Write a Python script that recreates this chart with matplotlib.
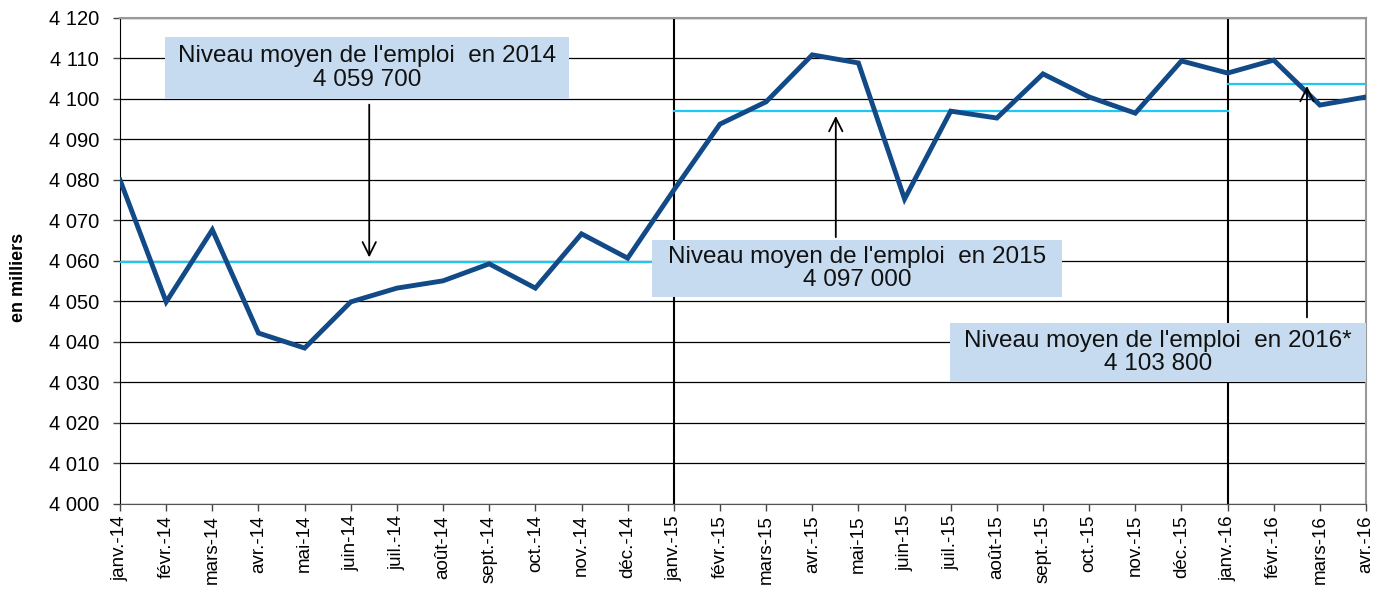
import matplotlib
matplotlib.use("Agg")
import matplotlib.pyplot as plt
from matplotlib.patches import Rectangle

plt.rcParams['font.family'] = ['Liberation Sans', 'DejaVu Sans']

months = ["janv.-14", "févr.-14", "mars-14", "avr.-14", "mai-14", "juin-14", "juil.-14",
          "août-14", "sept.-14", "oct.-14", "nov.-14", "déc.-14",
          "janv.-15", "févr.-15", "mars-15", "avr.-15", "mai-15", "juin-15", "juil.-15",
          "août-15", "sept.-15", "oct.-15", "nov.-15", "déc.-15",
          "janv.-16", "févr.-16", "mars-16", "avr.-16"]
emploi = [4080.0, 4049.9, 4067.7, 4042.2, 4038.5, 4049.9, 4053.3, 4055.1, 4059.3, 4053.3,
          4066.7, 4060.7, 4077.5, 4093.8, 4099.3, 4110.9, 4108.9, 4075.3, 4097.0, 4095.3,
          4106.2, 4100.5, 4096.5, 4109.4, 4106.4, 4109.6, 4098.5, 4100.5]
avg_levels = [4059.7, 4097.0, 4103.8]
avg_labels = ["Niveau moyen de l'emploi  en 2014\n4 059 700",
              "Niveau moyen de l'emploi  en 2015\n4 097 000",
              "Niveau moyen de l'emploi  en 2016*\n4 103 800"]
avg_spans = [(0, 12), (12, 24), (24, 27)]
yticks = list(range(4000, 4121, 10))
ytick_labels = ["4 %03d" % (v - 4000) for v in yticks]

fig = plt.figure(figsize=(13.86, 5.90), dpi=100)
ax = fig.add_axes([0.0866, 0.1458, 0.8990, 0.8237])

x = list(range(len(months)))
ax.set_xlim(0, len(months) - 1)
ax.set_ylim(4000, 4120)

for v in yticks:
    ax.axhline(v, color='black', lw=0.9, zorder=1)

for (s, e) in avg_spans[1:]:
    ax.axvline(s, color='black', lw=1.5, zorder=2)

for lvl, (s, e) in zip(avg_levels, avg_spans):
    ax.plot([s, e], [lvl, lvl], color='#1ec8f5', lw=1.6, zorder=3)

ax.plot(x, emploi, color='#114a86', lw=3.5, zorder=4, solid_joinstyle='miter')

# annotation boxes (layout)
boxes = [(0.975, 9.73, 4100.0, 4115.3), (11.53, 20.41, 4051.1, 4065.2), (17.98, 27.0, 4030.1, 4044.7)]
arrows = [((5.40, 4099.3), (5.40, 4060.2)), ((15.51, 4065.2), (15.51, 4096.5)), ((25.72, 4045.4), (25.72, 4103.9))]
for (x0, x1, y0, y1), lab in zip(boxes, avg_labels):
    ax.add_patch(Rectangle((x0, y0), x1 - x0, y1 - y0, facecolor='#c6dbef', edgecolor='none', zorder=5))
    ax.text((x0 + x1) / 2, (y0 + y1) / 2, lab, ha='center', va='center', fontsize=17.5,
            linespacing=1.1, zorder=6, color='#111111')
for (p0, p1) in arrows:
    ax.annotate('', xy=p1, xytext=p0,
                arrowprops=dict(arrowstyle='->', color='black', lw=1.3, mutation_scale=24), zorder=6)

ax.set_yticks(yticks)
ax.set_yticklabels(ytick_labels, fontsize=14.5)
ax.set_xticks(x)
ax.set_xticklabels(months, rotation=90, fontsize=13.5)
ax.tick_params(axis='both', direction='out', length=5, width=1, color='#444444')
ax.tick_params(axis='y', pad=10)
ax.tick_params(axis='x', pad=3)

for side in ['top', 'right']:
    ax.spines[side].set_color('#999999')
    ax.spines[side].set_linewidth(1.5)
ax.spines['left'].set_color('black')
ax.spines['bottom'].set_color('#555555')

fig.text(0.013, 0.53, 'en milliers', rotation=90, fontsize=13, fontweight='bold',
         ha='center', va='center')

fig.savefig('out.png', dpi=100)
